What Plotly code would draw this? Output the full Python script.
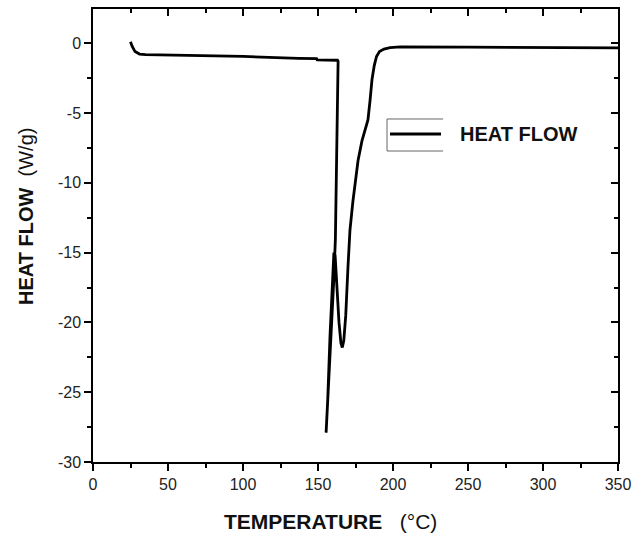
import plotly.graph_objects as go

temperature = [25, 26, 28, 31, 35, 50, 100, 137, 149, 149.5, 163, 163.4, 163.0, 162.4, 161.6, 160.5, 159.0, 157.0, 155.4,
               156.5, 158.0, 159.5, 160.6, 161.4, 162.5, 164.0, 165.3, 166.2, 167.2, 168.5, 170.0, 171.3, 173.3,
               176.7, 179.3, 181.5, 183.3, 184.7, 186.0, 187.5, 189.0, 191.0, 194.0, 198.0, 205, 250, 300, 350]
heat_flow = [0.1, -0.2, -0.6, -0.78, -0.82, -0.84, -0.95, -1.08, -1.1, -1.2, -1.22, -1.3, -5.0, -10.0, -14.0, -17.0, -20.5, -24.5, -27.9,
             -25.5, -21.0, -17.0, -15.0, -15.2, -17.5, -20.0, -21.5, -21.8, -21.3, -19.5, -16.0, -13.4, -11.3,
             -8.4, -7.0, -6.2, -5.5, -4.1, -2.6, -1.6, -0.95, -0.6, -0.42, -0.32, -0.27, -0.28, -0.3, -0.33]

x_tickvals = [0, 50, 100, 150, 200, 250, 300, 350]
x_ticktext = ["0", "50", "100", "150", "200", "250", "300", "350"]
y_tickvals = [0, -5, -10, -15, -20, -25, -30]
y_ticktext = ["0", "-5", "-10", "-15", "-20", "-25", "-30"]

legend_label = "HEAT FLOW"
x_title = "<b>TEMPERATURE</b>\u00a0\u00a0\u00a0(°C)"
y_title = "<b>HEAT FLOW</b>\u00a0\u00a0(W/g)"

fig = go.Figure()
fig.add_trace(go.Scatter(x=temperature, y=heat_flow, mode="lines",
                         line=dict(color="black", width=2.8), showlegend=False, hoverinfo="skip"))
fig.add_trace(go.Scatter(x=temperature, y=heat_flow, mode="lines", xaxis="x2", yaxis="y2",
                         line=dict(color="rgba(0,0,0,0)", width=0), showlegend=False, hoverinfo="skip"))

tickfont = dict(family="Liberation Sans, Arial", size=16, color="#222")
common = dict(tickwidth=1.5, tickcolor="black", showline=True, linecolor="black", linewidth=1.5,
              showgrid=False, zeroline=False, automargin=False)
fig.update_layout(
    width=634, height=533,
    margin=dict(l=93, r=16, t=9, b=71),
    paper_bgcolor="white", plot_bgcolor="white",
    xaxis=dict(range=[0, 350], tickmode="array", tickvals=x_tickvals, ticktext=x_ticktext,
               ticks="outside", ticklen=7, tickfont=tickfont, **common,
               minor=dict(dtick=25, tick0=0, ticks="outside", ticklen=4, tickwidth=1.5, tickcolor="black", showgrid=False)),
    yaxis=dict(range=[-30, 2.45], tickmode="array", tickvals=y_tickvals, ticktext=y_ticktext,
               ticks="outside", ticklen=7, tickfont=tickfont, **common,
               minor=dict(dtick=2.5, tick0=0, ticks="outside", ticklen=4, tickwidth=1.5, tickcolor="black", showgrid=False)),
    xaxis2=dict(overlaying="x", side="top", matches="x", range=[0, 350], tickmode="array", tickvals=x_tickvals,
                ticks="inside", ticklen=7, showticklabels=False, **common,
                minor=dict(dtick=25, tick0=0, ticks="inside", ticklen=4, tickwidth=1.5, tickcolor="black", showgrid=False)),
    yaxis2=dict(overlaying="y", side="right", matches="y", range=[-30, 2.45], tickmode="array", tickvals=y_tickvals,
                ticks="inside", ticklen=7, showticklabels=False, **common,
                minor=dict(dtick=2.5, tick0=0, ticks="inside", ticklen=4, tickwidth=1.5, tickcolor="black", showgrid=False)),
)

# axis titles
fig.add_annotation(text=x_title, xref="paper", yref="paper", x=0.453, y=0, yanchor="middle",
                   yshift=-59, showarrow=False, font=dict(family="Liberation Sans, Arial", size=21, color="#111"))
fig.add_annotation(text=y_title, xref="paper", yref="paper", x=0, y=0.541, xanchor="center",
                   xshift=-67, textangle=-90, showarrow=False,
                   font=dict(family="Liberation Sans, Arial", size=20, color="#111"))

# legend drawn manually
box = dict(type="line", xref="paper", yref="paper", line=dict(color="#666", width=1))
fig.add_shape(**box, x0=0.560, x1=0.560, y0=0.6865, y1=0.7572)
fig.add_shape(**box, x0=0.560, x1=0.6667, y0=0.7572, y1=0.7572)
fig.add_shape(**box, x0=0.560, x1=0.6667, y0=0.6865, y1=0.6865)
fig.add_shape(type="line", xref="paper", yref="paper", x0=0.5657, x1=0.6629, y0=0.7241, y1=0.7241,
              line=dict(color="black", width=3))
fig.add_annotation(text="<b>" + legend_label + "</b>", xref="paper", yref="paper", x=0.6952, y=0.7241,
                   xanchor="left", yanchor="middle", showarrow=False,
                   font=dict(family="Liberation Sans, Arial", size=20, color="#111"))

fig.write_html("out.html")
